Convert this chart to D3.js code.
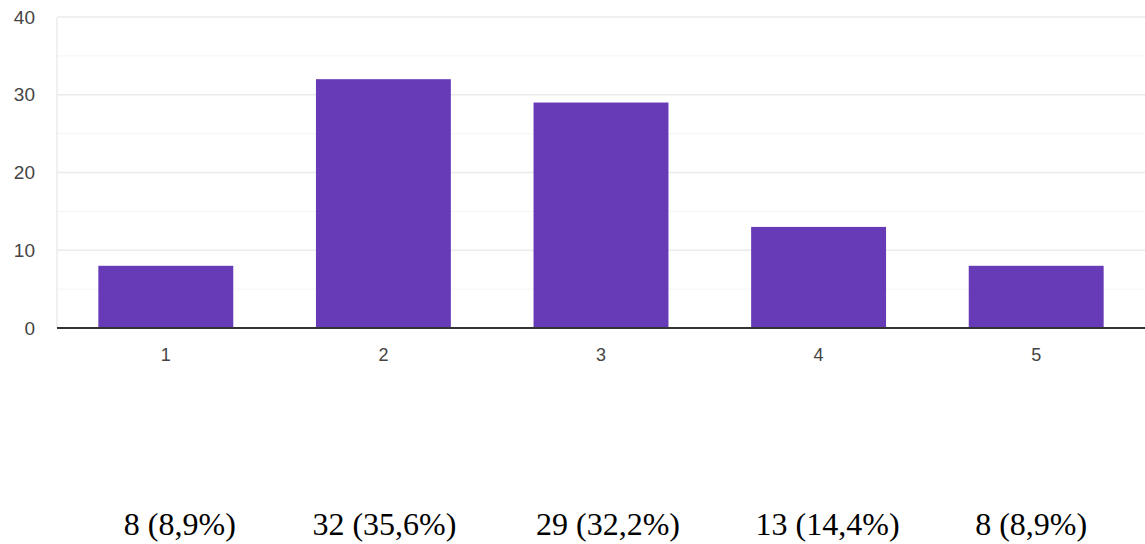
<!DOCTYPE html>
<html><head><meta charset="utf-8">
<script src="https://cdn.jsdelivr.net/npm/d3@7"></script>
<style>body{margin:0;background:#fff}svg{display:block}</style>
</head><body>
<svg id="c" width="1145" height="544"></svg>
<script>
const categories = ["1","2","3","4","5"];
const values = [8, 32, 29, 13, 8];
const labels = ["8 (8,9%)","32 (35,6%)","29 (32,2%)","13 (14,4%)","8 (8,9%)"];
const yTicks = [0,10,20,30,40];
const yMinor = [5,15,25,35];

(function(){
const svg = d3.select("#c");
const mL = 57, mR = 1145, mT = 17, mB = 328;
const x = d3.scaleBand().domain(categories).range([mL, mR]).paddingInner(0.38).paddingOuter(0.19);
const y = d3.scaleLinear().domain([0,40]).range([mB, mT]);

// gridlines
svg.append("g").selectAll("line").data(yMinor).join("line")
  .attr("x1", mL).attr("x2", mR).attr("y1", d=>y(d)).attr("y2", d=>y(d))
  .attr("stroke", "#f4f4f4").attr("stroke-width", 1);
svg.append("g").selectAll("line").data(yTicks.filter(d=>d>0)).join("line")
  .attr("x1", mL).attr("x2", mR).attr("y1", d=>y(d)).attr("y2", d=>y(d))
  .attr("stroke", "#ebebeb").attr("stroke-width", 1.5);
svg.append("line").attr("x1", mL).attr("x2", mL).attr("y1", mT).attr("y2", mB)
  .attr("stroke", "#ebebeb").attr("stroke-width", 1.5);

// bars
svg.append("g").selectAll("rect").data(values).join("rect")
  .attr("x", (d,i)=>x(categories[i])).attr("width", x.bandwidth())
  .attr("y", d=>y(d)).attr("height", d=>y(0)-y(d))
  .attr("fill", "#673ab7");

// baseline
svg.append("line").attr("x1", mL).attr("x2", mR).attr("y1", y(0)).attr("y2", y(0))
  .attr("stroke", "#333").attr("stroke-width", 2);

// y labels
svg.append("g").selectAll("text").data(yTicks).join("text")
  .attr("x", 35).attr("y", d=>y(d)).attr("dy", "0.35em")
  .attr("text-anchor", "end").attr("font-family", "Liberation Sans, Arial, sans-serif")
  .attr("font-size", 19).attr("fill", "#444").text(d=>d);

// x labels
svg.append("g").selectAll("text").data(categories).join("text")
  .attr("x", d=>x(d)+x.bandwidth()/2).attr("y", 361)
  .attr("text-anchor", "middle").attr("font-family", "Liberation Sans, Arial, sans-serif")
  .attr("font-size", 18).attr("fill", "#444").text(d=>d);

// bottom value labels
const offs = [14, 1, 7, 9, -5];
svg.append("g").selectAll("text").data(labels).join("text")
  .attr("x", (d,i)=>x(categories[i])+x.bandwidth()/2+offs[i]).attr("y", 535)
  .attr("text-anchor", "middle").attr("font-family", "Liberation Serif, Times New Roman, serif")
  .attr("font-size", 32).attr("fill", "#000").text(d=>d);
})();
</script>
</body></html>
